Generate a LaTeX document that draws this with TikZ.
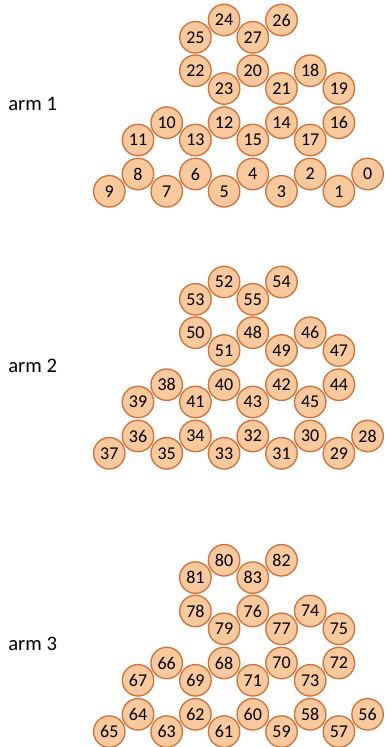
\documentclass[tikz,border=0pt]{standalone}
\usepackage{fontspec}
\setmainfont{Carlito}
\usepackage{tikz}

\definecolor{beadfill}{HTML}{F8C99C}
\definecolor{beadline}{HTML}{D2703A}

\begin{document}
\begin{tikzpicture}[
  x=0.75pt, y=-0.75pt,
  bead/.style={circle, draw=beadline, fill=beadfill, line width=1pt, minimum size=23.6pt, inner sep=0pt, font=\fontsize{13.5}{16}\selectfont},
  armlabel/.style={anchor=west, inner sep=0pt, font=\fontsize{15.5}{18}\selectfont}
]
\useasboundingbox (0,0) rectangle (387,747);

% one arm: number offset / column / row offset from the bottom row
\foreach \arm/\base/\ya in {1/0/174, 2/28/436, 3/56/714.3} {
  \node[armlabel] (label\arm) at (8,{\ya-70}) {arm \arm};
  \foreach \i/\k/\dy in {0/9/0, 1/8/17.3, 2/7/0, 3/6/17.3, 4/5/0, 5/4/17.3, 6/3/0, 7/2/17.3, 8/1/0, 9/0/17.3,
      10/2/-51.3, 11/1/-34, 12/4/-51.3, 13/3/-34, 14/6/-51.3, 15/5/-34, 16/8/-51.3, 17/7/-34,
      18/7/-103.3, 19/8/-85.5, 20/5/-103.3, 21/6/-85.5, 22/3/-103.3, 23/4/-85.5,
      24/4/-154, 25/3/-136.7, 26/6/-154, 27/5/-136.7} {
    \pgfmathtruncatemacro{\num}{\base+\i}
    \node[bead] (b\num) at ({109.3+28.7*\k}, {\ya+\dy}) {\num};
  }
}
\end{tikzpicture}
\end{document}
